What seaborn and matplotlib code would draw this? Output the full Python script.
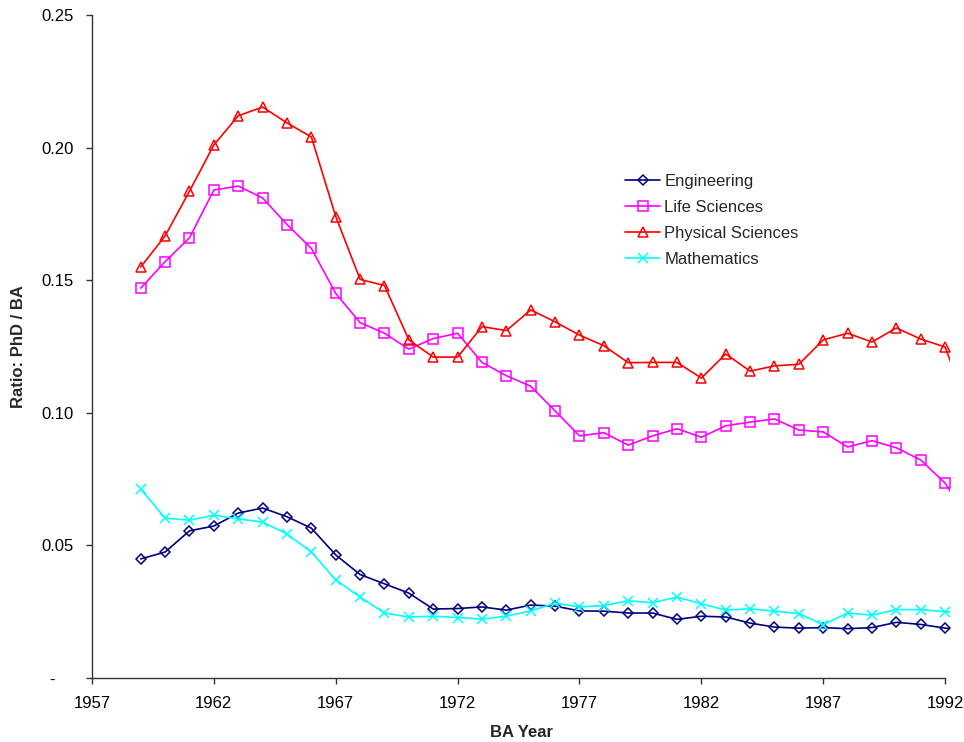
import matplotlib
matplotlib.use("Agg")
import matplotlib.pyplot as plt
import seaborn as sns
import numpy as np
import pandas as pd

# BA year 1959..1993 (1993 point is clipped at the right edge, like the original)
years = list(range(1959, 1994))

engineering = [0.0449, 0.0475, 0.0555, 0.0573, 0.0622, 0.0641, 0.0608, 0.0565, 0.0464, 0.0390,
               0.0355, 0.0320, 0.0260, 0.0262, 0.0268, 0.0256, 0.0275, 0.0271, 0.0253, 0.0252,
               0.0245, 0.0245, 0.0221, 0.0233, 0.0230, 0.0207, 0.0192, 0.0188, 0.0190, 0.0186,
               0.0190, 0.0210, 0.0202, 0.0188, 0.0180]
life_sciences = [0.147, 0.157, 0.166, 0.184, 0.1855, 0.181, 0.171, 0.162, 0.145, 0.134,
                 0.130, 0.124, 0.128, 0.130, 0.119, 0.114, 0.110, 0.1007, 0.0913, 0.0925,
                 0.0878, 0.0913, 0.0940, 0.0908, 0.0951, 0.0965, 0.0977, 0.0935, 0.0928, 0.0871,
                 0.0895, 0.0868, 0.0822, 0.0735, 0.059]
physical_sciences = [0.155, 0.1667, 0.1836, 0.201, 0.212, 0.2153, 0.2093, 0.204, 0.174, 0.1503,
                     0.148, 0.1275, 0.121, 0.121, 0.1325, 0.131, 0.1388, 0.1343, 0.1293, 0.1253,
                     0.1189, 0.119, 0.119, 0.1131, 0.1222, 0.1157, 0.1177, 0.1183, 0.1275, 0.130,
                     0.1267, 0.132, 0.1278, 0.1248, 0.100]
mathematics = [0.0712, 0.0603, 0.0595, 0.0614, 0.0600, 0.0588, 0.0543, 0.0475, 0.0370, 0.0305,
               0.0245, 0.0230, 0.0233, 0.0228, 0.0222, 0.0233, 0.0253, 0.0282, 0.0268, 0.0273,
               0.0291, 0.0284, 0.0305, 0.0280, 0.0256, 0.0261, 0.0252, 0.0243, 0.0201, 0.0245,
               0.0237, 0.0258, 0.0258, 0.0250, 0.0250]

series_names = ['Engineering', 'Life Sciences', 'Physical Sciences', 'Mathematics']
series_values = [engineering, life_sciences, physical_sciences, mathematics]
colors = ['#000080', '#FF00FF', '#FF0000', '#00FFFF']
markers = ['D', 's', '^', 'x']
marker_sizes = [5.0, 7.0, 7.5, 7.5]

x_ticks = list(range(1957, 1993, 5))
y_ticks = [0, 0.05, 0.10, 0.15, 0.20, 0.25]
y_tick_labels = ['-    ', '0.05', '0.10', '0.15', '0.20', '0.25']

sns.set_style("white")
plt.rcParams['font.family'] = ['Liberation Sans', 'DejaVu Sans']

fig = plt.figure(figsize=(9.64, 7.42), dpi=100)
ax = fig.add_axes([92 / 964, 1 - 678 / 742, 858 / 964, 663 / 742])

for name, vals, c, m, ms in zip(series_names, series_values, colors, markers, marker_sizes):
    df = pd.DataFrame({'year': years, 'ratio': vals})
    sns.lineplot(data=df, x='year', y='ratio', ax=ax, color=c, marker=m, markersize=ms,
                 markerfacecolor='none', markeredgecolor=c, markeredgewidth=1.1,
                 linewidth=1.2, label=name)

ax.set_xlim(1957, 1992.2)
ax.set_ylim(0, 0.25)
ax.set_xticks(x_ticks)
ax.set_yticks(y_ticks)
ax.set_yticklabels(y_tick_labels)

for s in ['top', 'right']:
    ax.spines[s].set_visible(False)
for s in ['left', 'bottom']:
    ax.spines[s].set_color('#333333')
    ax.spines[s].set_linewidth(1.0)
ax.spines['bottom'].set_bounds(1957, 1992)

ax.tick_params(axis='both', direction='out', length=4, width=1.0, color='#333333',
               labelsize=12, labelcolor='black', bottom=True, left=True)
ax.tick_params(axis='y', pad=9)
ax.tick_params(axis='x', pad=9)

ax.set_xlabel('BA Year', fontsize=12, fontweight='bold', labelpad=10)
ax.set_ylabel('Ratio: PhD / BA', fontsize=12, fontweight='bold', labelpad=11)

leg = ax.legend(loc='upper left', bbox_to_anchor=(625 / 964, 1 - 174 / 742),
                bbox_transform=fig.transFigure, frameon=False, fontsize=12,
                borderpad=0, borderaxespad=0, handlelength=2.1, handletextpad=0.25,
                labelspacing=0.65)

fig.savefig('out.png', dpi=100)
